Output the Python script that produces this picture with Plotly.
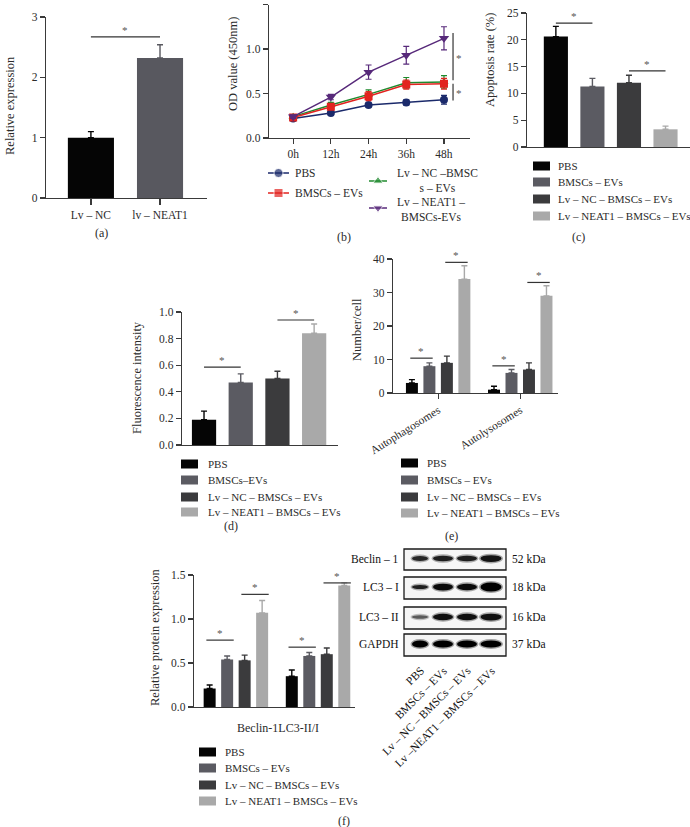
import plotly.graph_objects as go

W, H = 690, 827
SERIF = "Liberation Serif, DejaVu Serif, serif"
TXT = "#2b2b2b"
AX = "#3a3a3a"

# ---------------- data ----------------
a_groups = ["Lv – NC", "lv – NEAT1"]
a_values = [1.00, 2.32]
a_errors = [0.10, 0.22]
a_sig = [(0, 1, 2.67)]

b_times = ["0h", "12h", "24h", "36h", "48h"]
b_names = ["PBS", "BMSCs – EVs", "Lv – NC –BMSCs – EVs", "Lv – NEAT1 – BMSCs-EVs"]
b_pbs = [0.22, 0.28, 0.37, 0.40, 0.43]
b_pbs_err = [0.02, 0.02, 0.02, 0.03, 0.05]
b_bmsc = [0.23, 0.35, 0.47, 0.60, 0.61]
b_bmsc_err = [0.02, 0.03, 0.05, 0.05, 0.06]
b_nc = [0.24, 0.37, 0.49, 0.62, 0.63]
b_nc_err = [0.02, 0.03, 0.05, 0.06, 0.07]
b_neat = [0.24, 0.46, 0.74, 0.93, 1.12]
b_neat_err = [0.02, 0.03, 0.08, 0.10, 0.13]
b_sig = [(1.18, 0.65, 0.90), (0.61, 0.42, 0.51)]

groups4 = ["PBS", "BMSCs – EVs", "Lv – NC – BMSCs – EVs", "Lv – NEAT1 – BMSCs – EVs"]
groups4_d = ["PBS", "BMSCs–EVs", "Lv – NC – BMSCs – EVs", "Lv – NEAT1 – BMSCs – EVs"]

c_values = [20.6, 11.3, 12.0, 3.3]
c_errors = [1.9, 1.5, 1.4, 0.6]
c_sig = [(0, 1, 23.1), (2, 3, 14.2)]

d_values = [0.19, 0.47, 0.50, 0.84]
d_errors = [0.065, 0.065, 0.055, 0.07]
d_sig = [(0, 1, 0.586), (2, 3, 0.94)]

e_cats = ["Autophagosomes", "Autolysosomes"]
e_values = [[3, 1], [8, 6], [9, 7], [34, 29]]
e_errors = [[1, 1], [1, 1], [2, 2], [4, 3]]
e_sig = [(0, 0, 1, 10.4), (0, 2, 3, 39.0), (1, 0, 1, 8.1), (1, 2, 3, 33.0)]

f_title = "Beclin-1LC3-II/I"
f_values = [[0.21, 0.35], [0.54, 0.58], [0.53, 0.60], [1.07, 1.38]]
f_errors = [[0.04, 0.07], [0.04, 0.04], [0.06, 0.07], [0.14, 0.03]]
f_sig = [(0, 0, 1, 0.76), (0, 2, 3, 1.28), (1, 0, 1, 0.68), (1, 2, 3, 1.41)]

blot_rows = ["Beclin – 1", "LC3 – I", "LC3 – II", "GAPDH"]
blot_kda = ["52 kDa", "18 kDa", "16 kDa", "37 kDa"]
blot_lanes = ["PBS", "BMSCs – EVs", "Lv – NC – BMSCs – EVs", "Lv –NEAT1 – BMSCs – EVs"]
band_size = [[0.55, 0.60, 0.60, 0.75],
             [0.45, 0.75, 0.70, 1.00],
             [0.40, 0.70, 0.70, 0.75],
             [0.80, 0.80, 0.80, 0.80]]
band_dark = [[0.80, 0.85, 0.85, 0.90],
             [0.85, 0.95, 0.95, 1.00],
             [0.55, 0.92, 0.92, 0.92],
             [1.00, 1.00, 1.00, 1.00]]

# ---------------- styles ----------------
A_COLORS = ["#050505", "#58585f"]
COLORS4 = ["#050505", "#5b5b62", "#3b3b3d", "#a9a9a9"]
B_COLORS = ["#1b2a6b", "#e2231f", "#1f8a2e", "#57297a"]
B_SYMBOLS = ["circle", "square", "triangle-up", "triangle-down"]
LEG = 11

fig = go.Figure()
layout = {}
shapes = []
anns = []


def PX(x):
    return x / W


def PY(y):
    return 1 - y / H


def add_axes(n, x0, x1, ytop, ybot, xr, yr, xkw=None, ykw=None):
    xs = "xaxis" if n == 1 else f"xaxis{n}"
    ys = "yaxis" if n == 1 else f"yaxis{n}"
    base = dict(showline=True, linecolor=AX, linewidth=1.3, showgrid=False,
                zeroline=False, ticks="outside", ticklen=5, tickwidth=1.2,
                tickcolor=AX, tickfont=dict(family=SERIF, size=11.5, color=TXT),
                fixedrange=True, automargin=False)
    xd = dict(base, domain=[PX(x0), PX(x1)], range=xr, anchor=f"y{n}" if n > 1 else "y")
    yd = dict(base, domain=[PY(ybot), PY(ytop)], range=yr, anchor=f"x{n}" if n > 1 else "x")
    if xkw:
        xd.update(xkw)
    if ykw:
        yd.update(ykw)
    layout[xs] = xd
    layout[ys] = yd


def ref(n):
    return ("x" if n == 1 else f"x{n}"), ("y" if n == 1 else f"y{n}")


def text(px, py, s, size=LEG, xa="left", ya="middle", angle=0, color=TXT):
    anns.append(dict(x=PX(px), y=PY(py), xref="paper", yref="paper", text=s,
                     showarrow=False, xanchor=xa, yanchor=ya, textangle=angle,
                     font=dict(family=SERIF, size=size, color=color)))


def sig_line(n, xa, xb, y):
    xr, yr = ref(n)
    shapes.append(dict(type="line", xref=xr, yref=yr, x0=xa, x1=xb, y0=y, y1=y,
                       line=dict(color="#333", width=1.2)))
    anns.append(dict(x=(xa + xb) / 2, y=y, xref=xr, yref=yr, text="*", showarrow=False,
                     yanchor="bottom", yshift=-1,
                     font=dict(family=SERIF, size=11, color="#555")))


def bar(n, x, y, err, color, width):
    xr, yr = ref(n)
    fig.add_trace(go.Bar(x=x, y=y, width=width, marker=dict(color=color, line=dict(width=0)),
                         error_y=dict(type="data", array=err, arrayminus=[0] * len(err),
                                      symmetric=False, color=color, thickness=1.4, width=3),
                         xaxis=xr, yaxis=yr, showlegend=False))


def box_legend(x0, rows, labels, tx):
    for yy, lab, col in zip(rows, labels, COLORS4):
        shapes.append(dict(type="rect", xref="paper", yref="paper",
                           x0=PX(x0), x1=PX(x0 + 17), y0=PY(yy + 4.5), y1=PY(yy - 4.5),
                           fillcolor=col, line=dict(width=0)))
        text(tx, yy, lab)


# ---------------- (a) ----------------
add_axes(1, 46, 207, 17, 198, [-0.65, 1.68], [0, 3],
         xkw=dict(tickvals=[0, 1], ticktext=a_groups, ticklen=6),
         ykw=dict(tickvals=[0, 1, 2, 3]))
for i in range(2):
    bar(1, [i], [a_values[i]], [a_errors[i]], A_COLORS[i], 0.667)
for xa, xb, y in a_sig:
    sig_line(1, xa, xb, y)
text(10, 106, "Relative expression", size=12.5, xa="center", angle=-90)
text(101, 233, "(a)", size=12, xa="center")

# ---------------- (b) ----------------
add_axes(2, 269, 470, 4.5, 138, [-0.64, 4.69], [0, 1.5],
         xkw=dict(tickvals=list(range(5)), ticktext=b_times),
         ykw=dict(tickvals=[0, 0.5, 1.0, 1.5], tickformat=".1f"))
b_y = [b_pbs, b_bmsc, b_nc, b_neat]
b_e = [b_pbs_err, b_bmsc_err, b_nc_err, b_neat_err]
for k in [0, 2, 1, 3]:
    fig.add_trace(go.Scatter(x=list(range(5)), y=b_y[k], mode="lines+markers",
                             line=dict(color=B_COLORS[k], width=1.5),
                             marker=dict(symbol=B_SYMBOLS[k], size=8 if k != 3 else 9, color=B_COLORS[k]),
                             error_y=dict(type="data", array=b_e[k], color=B_COLORS[k], thickness=1.2, width=3),
                             xaxis="x2", yaxis="y2", showlegend=False))
for y0, y1, ys in b_sig:
    shapes.append(dict(type="line", xref="x2", yref="y2", x0=4.24, x1=4.24, y0=y0, y1=y1,
                       line=dict(color="#333", width=1.2)))
    anns.append(dict(x=4.40, y=ys, xref="x2", yref="y2", text="*", showarrow=False,
                     font=dict(family=SERIF, size=11, color="#555")))
text(233, 64, "OD value (450nm)", size=12.5, xa="center", angle=-90)
text(344, 237, "(b)", size=12, xa="center")

# legend (b) on overlay pixel axis
leg_b = [(268, 289, 173), (268, 289, 193), (369, 387, 181), (369, 387, 208)]
for k, (lx0, lx1, ly) in enumerate(leg_b):
    fig.add_trace(go.Scatter(x=[lx0, (lx0 + lx1) / 2, lx1], y=[ly, ly, ly], mode="lines+markers",
                             line=dict(color=B_COLORS[k], width=1.5),
                             marker=dict(symbol=B_SYMBOLS[k], size=[0, 9, 0], color=B_COLORS[k]),
                             xaxis="x7", yaxis="y7", showlegend=False))
text(293, 173, "PBS", size=11.5)
text(293, 193, "BMSCs – EVs", size=11.5)
text(395, 180, "Lv – NC –BMSC<br>s – EVs", size=11.5)
text(395, 209.5, "Lv – NEAT1 –<br>BMSCs-EVs", size=11.5)

# ---------------- (c) ----------------
add_axes(3, 527, 690, 13, 147, [-0.79, 3.67], [0, 25],
         xkw=dict(ticks="", showticklabels=False),
         ykw=dict(tickvals=[0, 5, 10, 15, 20, 25]))
for i in range(4):
    bar(3, [i], [c_values[i]], [c_errors[i]], COLORS4[i], 0.66)
for xa, xb, y in c_sig:
    sig_line(3, xa, xb, y)
text(490, 60, "Apoptosis rate (%)", size=12.5, xa="center", angle=-90)
box_legend(533, [166, 182, 199, 216], groups4, 556)
text(578, 237, "(c)", size=12, xa="center")

# ---------------- (d) ----------------
add_axes(4, 182, 338, 312, 445, [-0.6, 3.65], [0, 1.0],
         xkw=dict(ticks="", showticklabels=False),
         ykw=dict(tickvals=[0, 0.2, 0.4, 0.6, 0.8, 1.0], tickformat=".1f"))
for i in range(4):
    bar(4, [i], [d_values[i]], [d_errors[i]], COLORS4[i], 0.66)
for xa, xb, y in d_sig:
    sig_line(4, xa, xb, y)
text(137, 378, "Fluorescence intensity", size=12.5, xa="center", angle=-90)
box_legend(181, [464, 480, 497, 512], groups4_d, 206)
text(231, 526, "(d)", size=12, xa="center")

# ---------------- (e) ----------------
SLOT = 0.213
BW = 0.146
add_axes(5, 393, 558, 259, 393, [-0.55, 1.46], [0, 40],
         xkw=dict(tickvals=[0, 1], ticktext=e_cats, tickangle=-32),
         ykw=dict(tickvals=[0, 10, 20, 30, 40]))
for i in range(4):
    xs = [g + (i - 1.5) * SLOT for g in range(2)]
    bar(5, xs, e_values[i], e_errors[i], COLORS4[i], BW)
for g, i, j, y in e_sig:
    sig_line(5, g + (i - 1.5) * SLOT - 0.02, g + (j - 1.5) * SLOT + 0.04, y)
text(357, 330, "Number/cell", size=12.5, xa="center", angle=-90)
box_legend(401, [463, 480, 497, 513], groups4, 425)
text(452, 536, "(e)", size=12, xa="center")

# ---------------- (f) ----------------
add_axes(6, 194, 355, 575, 707, [-0.51, 1.45], [0, 1.5],
         xkw=dict(ticks="", showticklabels=False),
         ykw=dict(tickvals=[0, 0.5, 1.0, 1.5], tickformat=".1f"))
for i in range(4):
    xs = [g + (i - 1.5) * SLOT for g in range(2)]
    bar(6, xs, f_values[i], f_errors[i], COLORS4[i], BW)
for g, i, j, y in f_sig:
    sig_line(6, g + (i - 1.5) * SLOT - 0.04, g + (j - 1.5) * SLOT + 0.08, y)
text(155, 637, "Relative protein expression", size=12.5, xa="center", angle=-90)
text(278, 728, f_title, size=12, xa="center")
box_legend(199, [752, 768, 785, 801], groups4, 223)
text(344, 821, "(f)", size=12, xa="center")

# overlay pixel axis
layout["xaxis7"] = dict(domain=[0, 1], range=[0, W], visible=False, fixedrange=True, anchor="y7")
layout["yaxis7"] = dict(domain=[0, 1], range=[H, 0], visible=False, fixedrange=True, anchor="x7")

# ---------------- western blot ----------------
row_boxes = [(549, 570), (577, 599), (607, 629), (634, 656)]
lane_x = [420, 443, 467, 491]
lane_w = [16, 20, 20, 21]
for r, (yt, yb) in enumerate(row_boxes):
    shapes.append(dict(type="rect", xref="x7", yref="y7", x0=404, x1=506, y0=yt, y1=yb,
                       fillcolor="#f6f6f6", line=dict(color="#1a1a1a", width=1.3), layer="above"))
    yc = (yt + yb) / 2 - 1
    for l in range(4):
        h = 9 * band_size[r][l]
        g = int(round((1 - band_dark[r][l]) * 200))
        col = f"rgb({g},{g},{g})"
        w = lane_w[l]
        shapes.append(dict(type="circle", xref="x7", yref="y7",
                           x0=lane_x[l] - w / 2 - 1.5, x1=lane_x[l] + w / 2 + 1.5,
                           y0=yc - h / 2 - 1.5, y1=yc + h / 2 + 1.5,
                           fillcolor=col, opacity=0.35, line=dict(width=0), layer="above"))
        shapes.append(dict(type="circle", xref="x7", yref="y7",
                           x0=lane_x[l] - w / 2, x1=lane_x[l] + w / 2,
                           y0=yc - h / 2, y1=yc + h / 2,
                           fillcolor=col, line=dict(width=0), layer="above"))
    text(401, yc, blot_rows[r], size=11.5, xa="right", color="#111")
    text(510, yc, blot_kda[r], size=11.5, xa="left", color="#111")
for l in range(4):
    text(lane_x[l] + 9, 662, blot_lanes[l], size=11.5, xa="right", ya="top", angle=-45, color="#111")

layout.update(dict(template="none", width=W, height=H, margin=dict(l=0, r=0, t=0, b=0, pad=0),
                   paper_bgcolor="white", plot_bgcolor="rgba(0,0,0,0)",
                   barmode="overlay", showlegend=False, shapes=shapes, annotations=anns,
                   font=dict(family=SERIF, color=TXT)))
fig.update_layout(**layout)
fig.write_html("out.html", config={"displayModeBar": False, "staticPlot": True},
               post_script="document.body.style.margin='0';document.body.style.padding='0';document.body.style.overflow='hidden';")
